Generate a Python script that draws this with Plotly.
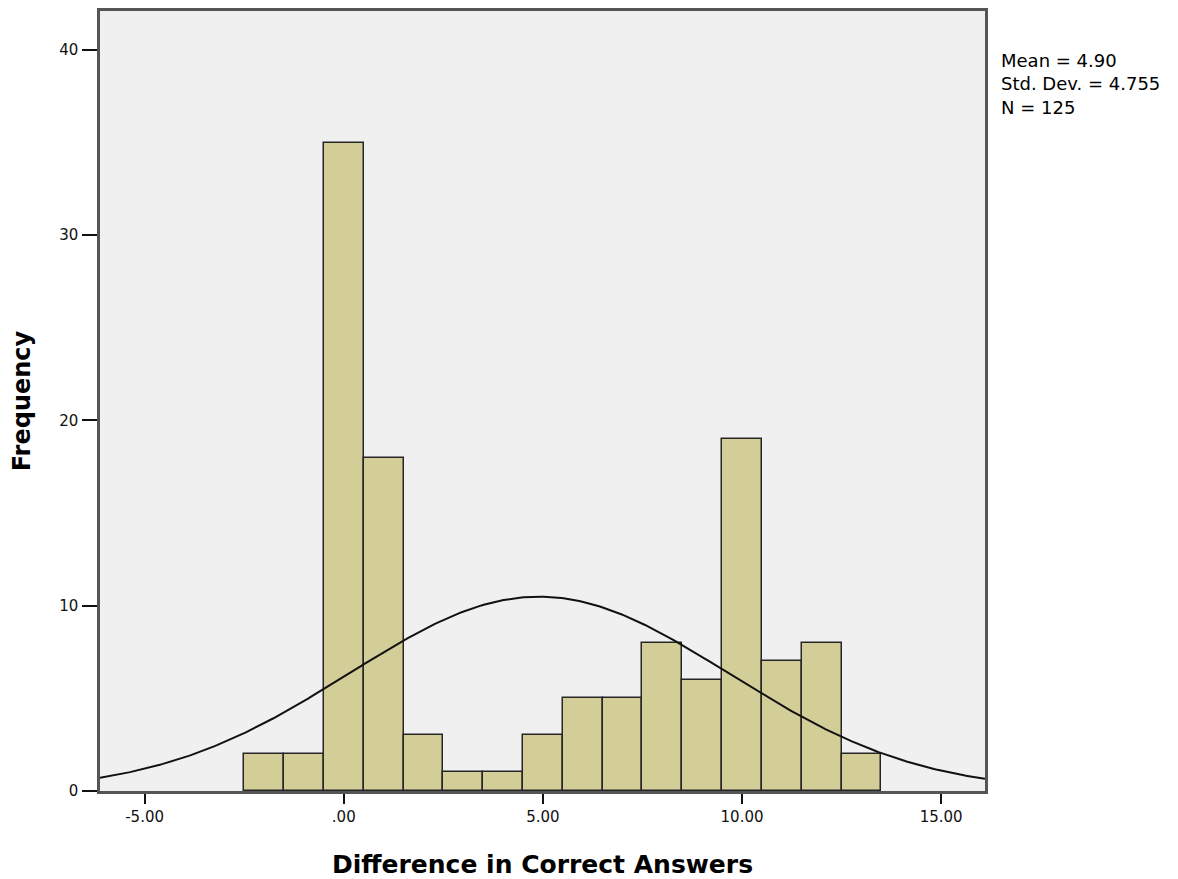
import numpy as np
import plotly.graph_objects as go

# histogram bins (centres, width 1) and counts
bin_centers = [-2, -1, 0, 1, 2, 3, 4, 5, 6, 7, 8, 9, 10, 11, 12, 13]
counts = [2, 2, 35, 18, 3, 1, 1, 3, 5, 5, 8, 6, 19, 7, 8, 2]

mean = 4.90
std_dev = 4.755
n = 125

x_ticks = [-5, 0, 5, 10, 15]
x_tick_labels = ["-5.00", ".00", "5.00", "10.00", "15.00"]
y_ticks = [0, 10, 20, 30, 40]

x_range = [-6.12, 16.1]
y_range = [0, 42.1]

# normal curve scaled to the histogram (bin width 1)
xs = np.linspace(x_range[0], x_range[1], 400)
ys = n / (std_dev * np.sqrt(2 * np.pi)) * np.exp(-0.5 * ((xs - mean) / std_dev) ** 2)

fig = go.Figure()
fig.add_trace(go.Bar(
    x=bin_centers, y=counts, width=1,
    marker=dict(color="#D3CE97", line=dict(color="#262626", width=1.5)),
    showlegend=False,
))
fig.add_trace(go.Scatter(
    x=xs, y=ys, mode="lines",
    line=dict(color="#111111", width=2),
    showlegend=False,
))

fig.add_annotation(
    x=1.016, y=0.952, xref="paper", yref="paper",
    xanchor="left", yanchor="top", align="left", showarrow=False,
    text=f"Mean = {mean:.2f}<br>Std. Dev. = {std_dev:.3f}<br>N = {n}",
    font=dict(family="DejaVu Sans", size=18, color="#000000"),
)

axis_common = dict(
    showline=True, mirror=True, linecolor="#555555", linewidth=2.5,
    showgrid=False, zeroline=False, ticks="outside", tickcolor="#111111",
    tickwidth=2, automargin=False,
    tickfont=dict(family="DejaVu Sans", size=15, color="#111111"),
)

# page body adds an 8px offset, so the figure is a bit smaller than the window
fig.update_layout(
    width=1170, height=871,
    margin=dict(l=92, r=193, t=3, b=88),
    paper_bgcolor="white", plot_bgcolor="#F0F0F0",
    bargap=0,
    xaxis=dict(
        axis_common, range=x_range, tickvals=x_ticks, ticktext=x_tick_labels,
        ticklen=10,
        title=dict(text="<b>Difference in Correct Answers</b>", standoff=33,
                   font=dict(family="DejaVu Sans", size=25, color="#000000")),
    ),
    yaxis=dict(
        axis_common, range=y_range, tickvals=y_ticks, ticklen=15,
        ticklabelstandoff=1,
        title=dict(text="<b>Frequency</b>", standoff=25,
                   font=dict(family="DejaVu Sans", size=24, color="#000000")),
    ),
)

fig.write_html("out.html")
